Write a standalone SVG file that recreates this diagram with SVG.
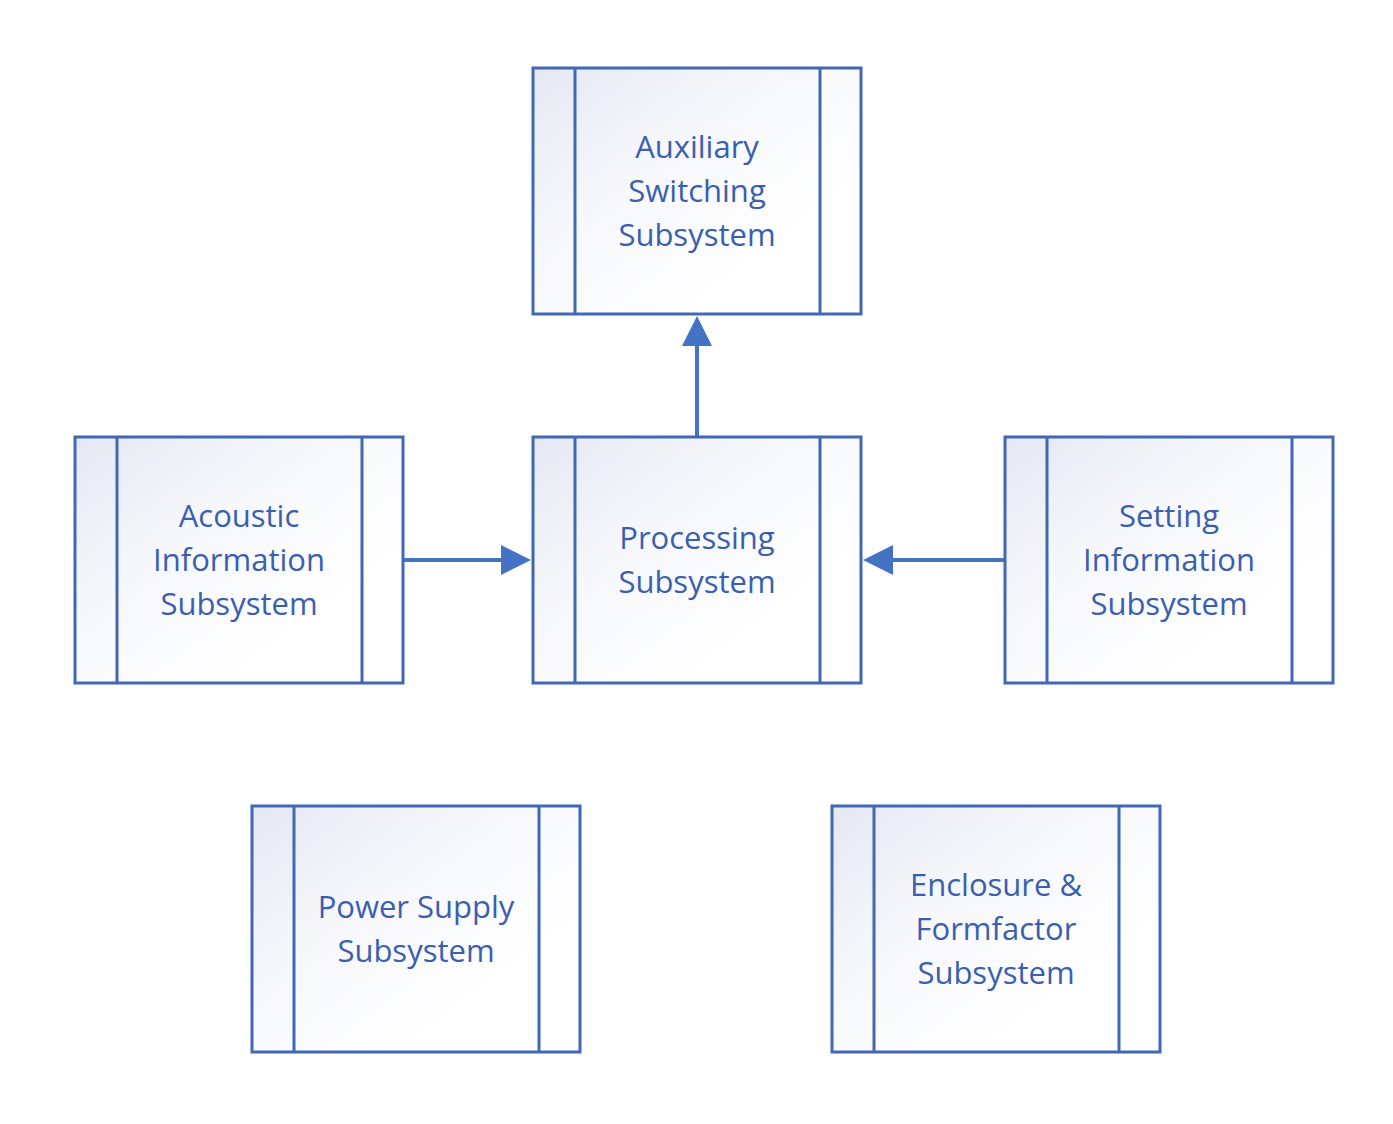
<svg xmlns="http://www.w3.org/2000/svg" width="1393" height="1124" viewBox="0 0 1393 1124">
<defs>
<linearGradient id="g" x1="0" y1="0" x2="1" y2="1">
<stop offset="0" stop-color="#E4E8F3"/>
<stop offset="0.35" stop-color="#F6F7FB"/>
<stop offset="0.75" stop-color="#FFFFFF"/>
</linearGradient>
</defs>
<style>
.box{fill:url(#g);stroke:#4068B4;stroke-width:3}
.ln{stroke:#4068B4;stroke-width:3}
.t{font-family:"Open Sans","Noto Sans",sans-serif;font-size:31px;fill:#3A5FB0;text-anchor:middle}
.c{stroke:#4472C4;stroke-width:4;fill:none}
.h{fill:#4472C4}
</style>
<rect width="1393" height="1124" fill="#FFFFFF"/>
<g id="connectors">
<line class="c" x1="697" y1="437" x2="697" y2="340"/>
<polygon class="h" points="697,316 682,346 712,346"/>
<line class="c" x1="403" y1="560" x2="505" y2="560"/>
<polygon class="h" points="531,560 501,545 501,575"/>
<line class="c" x1="1005" y1="560" x2="889" y2="560"/>
<polygon class="h" points="863,560 893,545 893,575"/>
</g>
<g id="aux">
<rect class="box" x="533" y="68" width="328" height="246"/>
<line class="ln" x1="575" y1="68" x2="575" y2="314"/>
<line class="ln" x1="820" y1="68" x2="820" y2="314"/>
<text class="t" x="697" y="158">Auxiliary</text>
<text class="t" x="697" y="202">Switching</text>
<text class="t" x="697" y="246">Subsystem</text>
</g>
<g id="acoustic">
<rect class="box" x="75" y="437" width="328" height="246"/>
<line class="ln" x1="117" y1="437" x2="117" y2="683"/>
<line class="ln" x1="362" y1="437" x2="362" y2="683"/>
<text class="t" x="239" y="527">Acoustic</text>
<text class="t" x="239" y="571">Information</text>
<text class="t" x="239" y="615">Subsystem</text>
</g>
<g id="processing">
<rect class="box" x="533" y="437" width="328" height="246"/>
<line class="ln" x1="575" y1="437" x2="575" y2="683"/>
<line class="ln" x1="820" y1="437" x2="820" y2="683"/>
<text class="t" x="697" y="549">Processing</text>
<text class="t" x="697" y="593">Subsystem</text>
</g>
<g id="setting">
<rect class="box" x="1005" y="437" width="328" height="246"/>
<line class="ln" x1="1047" y1="437" x2="1047" y2="683"/>
<line class="ln" x1="1292" y1="437" x2="1292" y2="683"/>
<text class="t" x="1169" y="527">Setting</text>
<text class="t" x="1169" y="571">Information</text>
<text class="t" x="1169" y="615">Subsystem</text>
</g>
<g id="power">
<rect class="box" x="252" y="806" width="328" height="246"/>
<line class="ln" x1="294" y1="806" x2="294" y2="1052"/>
<line class="ln" x1="539" y1="806" x2="539" y2="1052"/>
<text class="t" x="416" y="918">Power Supply</text>
<text class="t" x="416" y="962">Subsystem</text>
</g>
<g id="enclosure">
<rect class="box" x="832" y="806" width="328" height="246"/>
<line class="ln" x1="874" y1="806" x2="874" y2="1052"/>
<line class="ln" x1="1119" y1="806" x2="1119" y2="1052"/>
<text class="t" x="996" y="896">Enclosure &amp;</text>
<text class="t" x="996" y="940">Formfactor</text>
<text class="t" x="996" y="984">Subsystem</text>
</g>
</svg>
